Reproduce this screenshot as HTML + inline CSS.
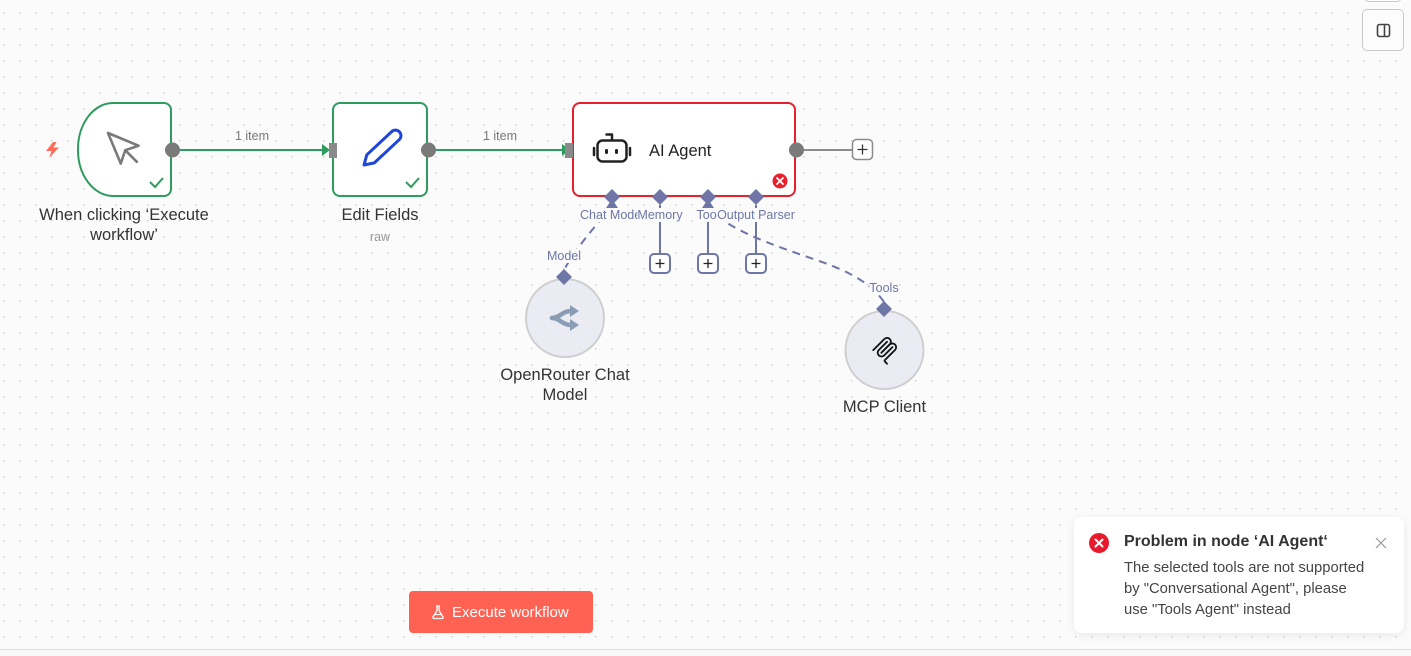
<!DOCTYPE html>
<html><head><meta charset="utf-8">
<style>
html,body{margin:0;padding:0;}
body{width:1411px;height:656px;overflow:hidden;font-family:"Liberation Sans",Arial,sans-serif;}
#wrap{position:relative;width:1411px;height:656px;overflow:hidden;background:#fbfbfb;}
svg{position:absolute;left:0;top:0;}
.hl{position:absolute;font-size:12.5px;line-height:14px;color:#6d76a7;background:#fbfbfb;transform:translateX(-50%);white-space:nowrap;padding:0 0px;}
.toast{position:absolute;left:1074px;top:517px;width:330px;height:116px;background:#fff;border-radius:8px;box-shadow:0 2px 10px rgba(0,0,0,0.08);}
.toast .title{position:absolute;left:50px;top:16px;font-size:16px;font-weight:bold;color:#333;white-space:nowrap;}
.toast .body{position:absolute;left:50px;top:41px;font-size:14.8px;line-height:21px;color:#444;white-space:nowrap;}
.btn{position:absolute;left:409px;top:591px;width:184px;height:42px;background:#ff6152;border-radius:4px;color:#fff;font-size:15px;}
.btn span{position:absolute;left:43px;top:13px;white-space:nowrap;}
.tr{position:absolute;left:1362px;top:9px;width:40px;height:40px;border:1px solid #c9c9c9;border-radius:5px;background:#fcfcfc;}
.tr2{position:absolute;left:1364px;top:-40px;width:36px;height:40px;border:1px solid #c9c9c9;border-radius:5px;background:#fcfcfc;}
.bottom{position:absolute;left:0;top:649px;width:1411px;height:7px;border-top:1px solid #dcdcdc;background:#f9f9f9;}
</style></head>
<body><div id="wrap">
<svg width="1411" height="656" viewBox="0 0 1411 656">
<defs>
<pattern id="dots" x="3" y="12" width="16" height="16" patternUnits="userSpaceOnUse"><rect width="1.3" height="1.3" fill="#c6c6c6"/></pattern>
</defs>
<rect width="1411" height="656" fill="#fbfbfb"/>
<rect width="1411" height="656" fill="url(#dots)"/>

<!-- lightning -->
<polygon points="53,142 46,151 51.5,151 49,158 59,147.5 53.5,147.5 56.5,142" fill="#ff6d5a"/>

<!-- edges -->
<line x1="180" y1="150" x2="323" y2="150" stroke="#2d9c5e" stroke-width="2"/>
<polygon points="322,144 330,150 322,156" fill="#2d9c5e"/>
<line x1="436" y1="150" x2="563" y2="150" stroke="#2d9c5e" stroke-width="2"/>
<polygon points="562,144 570,150 562,156" fill="#2d9c5e"/>
<text x="252" y="140" font-size="12.5" fill="#777" text-anchor="middle" font-family="Liberation Sans, sans-serif">1 item</text>
<text x="500" y="140" font-size="12.5" fill="#777" text-anchor="middle" font-family="Liberation Sans, sans-serif">1 item</text>

<!-- node 1 trigger -->
<path d="M113,103 H164 A7,7 0 0 1 171,110 V189 A7,7 0 0 1 164,196 H113 A35,46 0 0 1 78,150 A35,46 0 0 1 113,103 Z" fill="#fff" stroke="#2d9c5e" stroke-width="2"/>
<g transform="translate(102.6,127.6) scale(1.8)" fill="none" stroke="#7a7a7a" stroke-width="1.45" stroke-linejoin="round" stroke-linecap="round">
<path d="M3 3l7.07 16.97 2.51-7.39 7.39-2.51L3 3z"/><path d="M13 13l6 6"/>
</g>
<polyline points="150,182 155,187 163,178" fill="none" stroke="#2d9c5e" stroke-width="2"/>
<circle cx="172.5" cy="150" r="7.5" fill="#7a7a7a"/>
<text x="124" y="220" font-size="16.5" fill="#333" text-anchor="middle" font-family="Liberation Sans, sans-serif">When clicking ‘Execute</text>
<text x="124" y="240" font-size="16.5" fill="#333" text-anchor="middle" font-family="Liberation Sans, sans-serif">workflow’</text>

<!-- node 2 edit fields -->
<rect x="333" y="103" width="94" height="93" rx="7" fill="#fff" stroke="#2d9c5e" stroke-width="2"/>
<g transform="translate(364,165) rotate(-43)">
<path d="M0,0 L9,-5.5 H43 A5.5,5.5 0 0 1 43,5.5 H9 Z" fill="none" stroke="#1f45db" stroke-width="3" stroke-linejoin="round"/>
</g>
<polyline points="406,182 411,187 419,178" fill="none" stroke="#2d9c5e" stroke-width="2"/>
<rect x="329" y="143" width="8" height="15" fill="#8a8a8a"/>
<circle cx="428.5" cy="150" r="7.5" fill="#7a7a7a"/>
<text x="380" y="220" font-size="16.5" fill="#333" text-anchor="middle" font-family="Liberation Sans, sans-serif">Edit Fields</text>
<text x="380" y="241" font-size="12.5" fill="#999" text-anchor="middle" font-family="Liberation Sans, sans-serif">raw</text>

<!-- dashed connections -->
<path d="M612,205 C600,222 578,244 564,270" fill="none" stroke="#6d76a7" stroke-width="2" stroke-dasharray="8,6"/>
<path d="M708,205 C722,228 770,244 822,262 C850,272 872,284 884,302" fill="none" stroke="#6d76a7" stroke-width="2" stroke-dasharray="8,6"/>

<!-- vertical lines to plus -->
<line x1="660" y1="205" x2="660" y2="254" stroke="#6d76a7" stroke-width="2"/>
<line x1="708" y1="205" x2="708" y2="254" stroke="#6d76a7" stroke-width="2"/>
<line x1="756" y1="205" x2="756" y2="254" stroke="#6d76a7" stroke-width="2"/>

<!-- AI agent node -->
<rect x="573" y="103" width="222" height="93" rx="7" fill="#fff" stroke="#e8202e" stroke-width="2"/>
<g fill="none" stroke="#222" stroke-width="2.5" stroke-linecap="round" stroke-linejoin="round">
<rect x="597.5" y="140.5" width="29" height="21" rx="5"/>
<path d="M612,140 V134.5 H606.5"/>
<line x1="594" y1="148" x2="594" y2="155"/>
<line x1="630" y1="148" x2="630" y2="155"/>
</g>
<rect x="605" y="149" width="3" height="5" rx="1.2" fill="#222"/>
<rect x="615" y="149" width="3" height="5" rx="1.2" fill="#222"/>
<text x="649" y="156" font-size="16.5" fill="#222" font-family="Liberation Sans, sans-serif">AI Agent</text>
<circle cx="780" cy="181" r="7.5" fill="#e8202e"/>
<path d="M777,178 L783,184 M783,178 L777,184" stroke="#fff" stroke-width="1.8" stroke-linecap="round"/>
<rect x="565" y="143" width="8" height="15" fill="#8a8a8a"/>
<circle cx="796.5" cy="150" r="7.5" fill="#7a7a7a"/>
<line x1="804" y1="150" x2="852" y2="150" stroke="#8c8c8c" stroke-width="2"/>
<rect x="852.5" y="139.5" width="20" height="20" rx="4" fill="#fff" stroke="#8c8c8c" stroke-width="1.5"/>
<path d="M862.5,144.5 V154.5 M857.5,149.5 H867.5" stroke="#333" stroke-width="1.3"/>

<!-- plus boxes -->
<g fill="#fff" stroke="#6d76a7" stroke-width="2">
<rect x="650" y="254" width="20" height="19" rx="4"/>
<rect x="698" y="254" width="20" height="19" rx="4"/>
<rect x="746" y="254" width="20" height="19" rx="4"/>
</g>
<path d="M660,259 V268 M655.5,263.5 H664.5 M708,259 V268 M703.5,263.5 H712.5 M756,259 V268 M751.5,263.5 H760.5" stroke="#222" stroke-width="1.3"/>

<!-- OpenRouter -->
<circle cx="565" cy="318" r="39" fill="#eaebf3" stroke="#cfcfcf" stroke-width="2"/>
<g fill="none" stroke="#8a9db4" stroke-width="4.5" stroke-linecap="round">
<path d="M552,318 C560,318 562,311 571,311"/>
<path d="M552,318 C560,318 562,325 571,325"/>
</g>
<polygon points="570,305 579,311 570,317" fill="#8a9db4"/>
<polygon points="570,319 579,325 570,331" fill="#8a9db4"/>
<text x="565" y="380" font-size="16.5" fill="#333" text-anchor="middle" font-family="Liberation Sans, sans-serif">OpenRouter Chat</text>
<text x="565" y="400" font-size="16.5" fill="#333" text-anchor="middle" font-family="Liberation Sans, sans-serif">Model</text>

<!-- MCP -->
<circle cx="884.5" cy="350" r="39" fill="#eaebf3" stroke="#cfcfcf" stroke-width="2"/>
<g transform="translate(871,336) scale(0.15)" fill="none" stroke="#111" stroke-width="12" stroke-linecap="round">
<path d="M15 94L89 20C99 10 115 10 125 20C135 30 135 46 125 56L69 112"/>
<path d="M70 111L124 57C134 47 150 47 160 57C170 67 170 83 160 93L93 160C90 163 90 168 93 171L107 185"/>
<path d="M107 38L52 93C42 103 42 119 52 129C62 139 78 139 88 129L143 74"/>
</g>
<text x="884.5" y="412" font-size="16.5" fill="#333" text-anchor="middle" font-family="Liberation Sans, sans-serif">MCP Client</text>

<!-- diamonds (on top) -->
<g fill="#6d76a7">
<polygon points="612,189 620,197 612,205 604,197"/>
<polygon points="660,189 668,197 660,205 652,197"/>
<polygon points="708,189 716,197 708,205 700,197"/>
<polygon points="756,189 764,197 756,205 748,197"/>
<polygon points="612,199 606,208 618,208"/>
<polygon points="708,199 702,208 714,208"/>
<polygon points="564,269 572,277 564,285 556,277"/>
<polygon points="884,301 892,309 884,317 876,309"/>
</g>
</svg>

<!-- handle labels -->
<div class="hl" style="left:612px;top:208px;">Chat Model</div>
<div class="hl" style="left:660px;top:208px;">Memory</div>
<div class="hl" style="left:708px;top:208px;">Tool</div>
<div class="hl" style="left:756px;top:208px;">Output Parser</div>
<div class="hl" style="left:564px;top:249px;">Model</div>
<div class="hl" style="left:884px;top:281px;">Tools</div>

<!-- top-right buttons -->
<div class="tr2"></div>
<div class="tr">
<svg width="40" height="40" viewBox="0 0 40 40" style="position:absolute;left:0;top:0;">
<rect x="14.5" y="14.5" width="12" height="12" rx="2" fill="none" stroke="#444" stroke-width="1.6"/>
<line x1="21.5" y1="14.5" x2="21.5" y2="26.5" stroke="#444" stroke-width="1.6"/>
</svg>
</div>

<!-- execute button -->
<div class="btn">
<svg width="16" height="16" viewBox="0 0 16 16" style="position:absolute;left:21px;top:13px;">
<path d="M6,2 H10 M7,2 V6.5 L3,13 Q2.5,14.5 4,14.5 H12 Q13.5,14.5 13,13 L9,6.5 V2 M4.5,10.5 H11.5" fill="none" stroke="#fff" stroke-width="1.3" stroke-linejoin="round"/>
</svg>
<span>Execute workflow</span>
</div>

<!-- toast -->
<div class="toast">
<svg width="330" height="116" viewBox="0 0 330 116" style="position:absolute;left:0;top:0;">
<circle cx="25" cy="26" r="10" fill="#e8192c"/>
<path d="M21.5,22.5 L28.5,29.5 M28.5,22.5 L21.5,29.5" stroke="#fff" stroke-width="2" stroke-linecap="round"/>
<path d="M302,21 L312,31 M312,21 L302,31" stroke="#999" stroke-width="1.2"/>
</svg>
<div class="title">Problem in node ‘AI Agent‘</div>
<div class="body">The selected tools are not supported<br>by "Conversational Agent", please<br>use "Tools Agent" instead</div>
</div>

<div class="bottom"></div>
</div></body></html>
